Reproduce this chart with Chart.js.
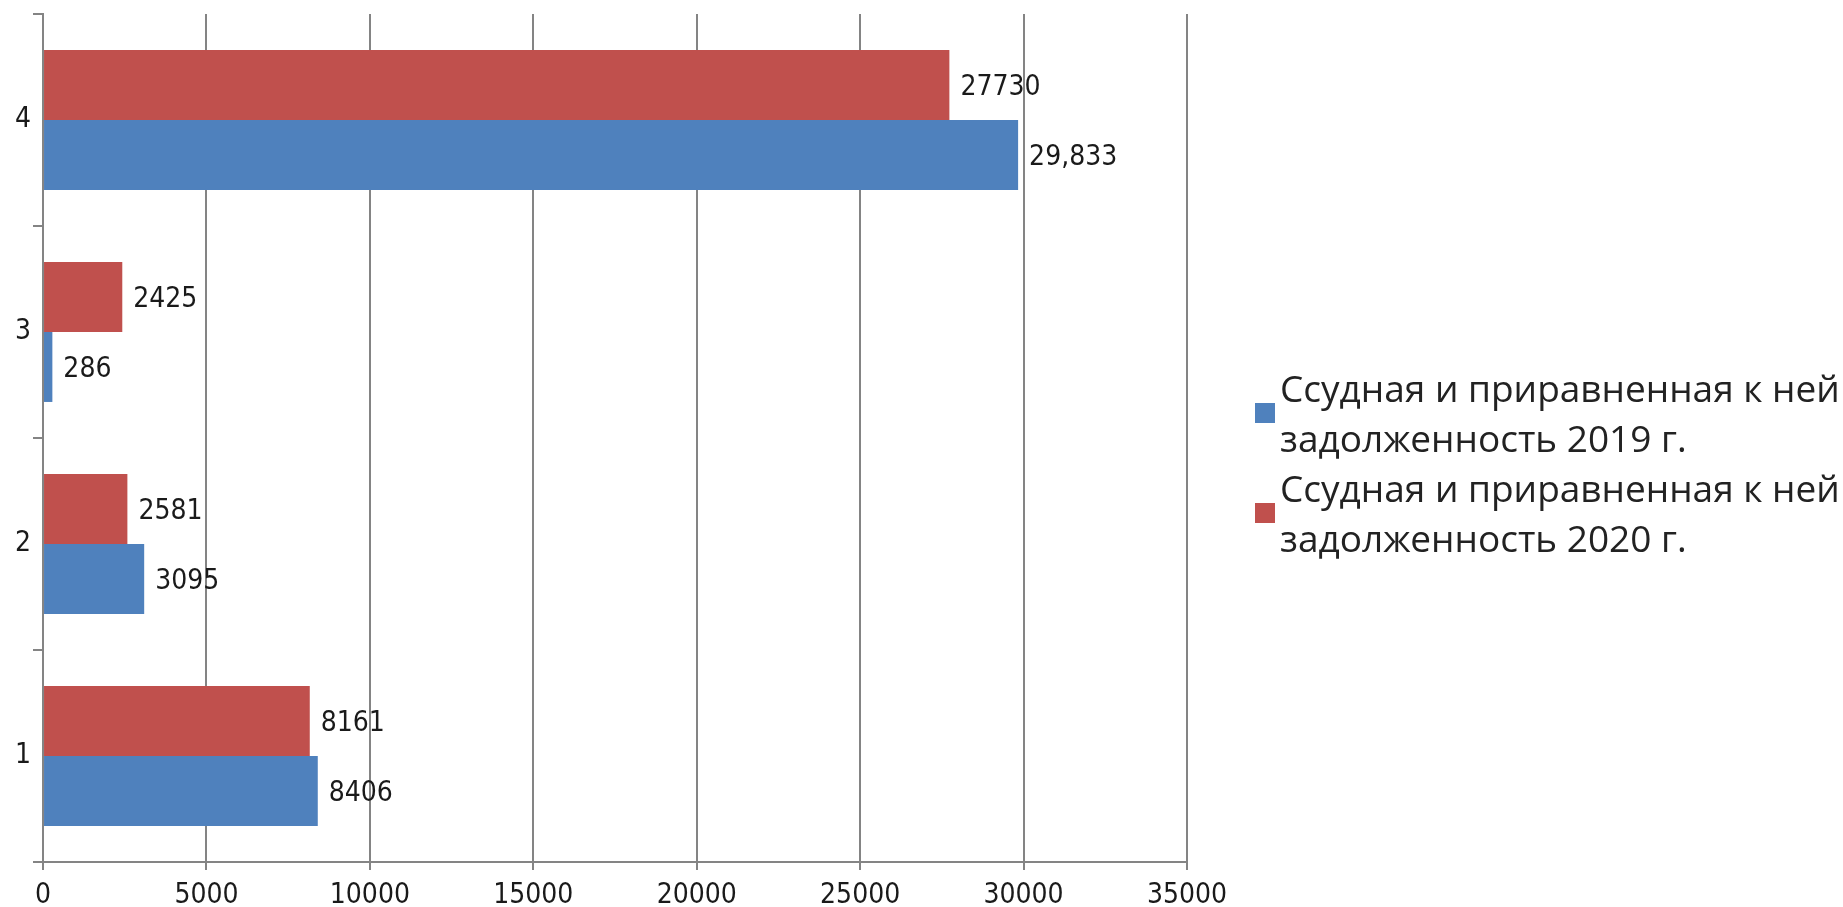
<!DOCTYPE html>
<html>
<head>
<meta charset="utf-8">
<script src="https://cdn.jsdelivr.net/npm/chart.js@4.4.1/dist/chart.umd.min.js"></script>
<style>
    body { margin: 0; background: #ffffff; }
    #wrap { position: relative; width: 1843px; height: 907px; }
    #legend { position: absolute; left: 1255px; top: 363px; font-family: 'Open Sans', sans-serif; font-size: 37px; line-height: 50px; color: #222; }
    .item { display: flex; align-items: center; height: 100px; }
    .box { width: 20px; height: 20px; margin-right: 5px; flex: none; }
</style>
</head>
<body>
<div id="wrap">
    <canvas id="barChart" width="1843" height="907"></canvas>
    <div id="legend"></div>
</div>
<script>
const categories = ['1', '2', '3', '4'];
const values2019 = [8406, 3095, 286, 29833];
const values2020 = [8161, 2581, 2425, 27730];
const labels2019 = ['8406', '3095', '286', '29,833'];
const labels2020 = ['8161', '2581', '2425', '27730'];
const series2019 = ['Ссудная и приравненная к ней', 'задолженность 2019 г.'];
const series2020 = ['Ссудная и приравненная к ней', 'задолженность 2020 г.'];
const xMin = 0, xMax = 35000, xStep = 5000;

const axisColor = '#848484';
const fontFamily = "'DejaVu Sans Condensed', 'DejaVu Sans', sans-serif";
const tickFont = { family: fontFamily, size: 28, lineHeight: 0.8 };

// value labels at the end of each bar
const valueLabels = {
    id: 'valueLabels',
    afterDatasetsDraw(chart) {
        const ctx = chart.ctx;
        ctx.save();
        ctx.font = '28px ' + fontFamily;
        ctx.fillStyle = '#1a1a1a';
        ctx.textBaseline = 'middle';
        ctx.textAlign = 'left';
        chart.data.datasets.forEach((ds, i) => {
            chart.getDatasetMeta(i).data.forEach((bar, j) => {
                ctx.fillText(ds.valueText[j], bar.x + 11, bar.y + 3);
            });
        });
        ctx.restore();
    }
};

// 2020 first so the red bar sits above the blue one in each group
const chart = new Chart(document.getElementById('barChart'), {
    type: 'bar',
    data: {
        labels: categories,
        datasets: [
            { label: series2020, data: values2020, valueText: labels2020, backgroundColor: '#c0504d' },
            { label: series2019, data: values2019, valueText: labels2019, backgroundColor: '#4f81bd' }
        ]
    },
    options: {
        indexAxis: 'y',
        responsive: false,
        animation: false,
        layout: { padding: { left: 13, top: 14, right: 656, bottom: 0 } },
        datasets: { bar: { categoryPercentage: 0.66, barPercentage: 1 } },
        scales: {
            x: {
                min: xMin, max: xMax,
                ticks: { stepSize: xStep, color: '#1a1a1a', font: tickFont, padding: 15, callback: v => String(v) },
                grid: { color: axisColor, lineWidth: 2, tickLength: 8 },
                border: { color: axisColor, width: 2 },
                afterFit: scale => { scale.height = 45; }
            },
            y: {
                reverse: true,
                ticks: { color: '#1a1a1a', font: tickFont, padding: 2 },
                grid: { offset: true, drawOnChartArea: false, color: axisColor, lineWidth: 2, tickLength: 10 },
                border: { color: axisColor, width: 2 },
                afterFit: scale => { scale.paddingTop = 0; scale.paddingBottom = 0; }
            }
        },
        plugins: { legend: { display: false }, tooltip: { enabled: false } }
    },
    plugins: [valueLabels]
});

// legend built from the datasets, 2019 listed first
const legendEl = document.getElementById('legend');
chart.data.datasets.slice().reverse().forEach(ds => {
    const item = document.createElement('div');
    item.className = 'item';
    const box = document.createElement('span');
    box.className = 'box';
    box.style.background = ds.backgroundColor;
    const text = document.createElement('div');
    text.innerHTML = ds.label.join('<br>');
    item.appendChild(box);
    item.appendChild(text);
    legendEl.appendChild(item);
});
</script>
</body>
</html>
